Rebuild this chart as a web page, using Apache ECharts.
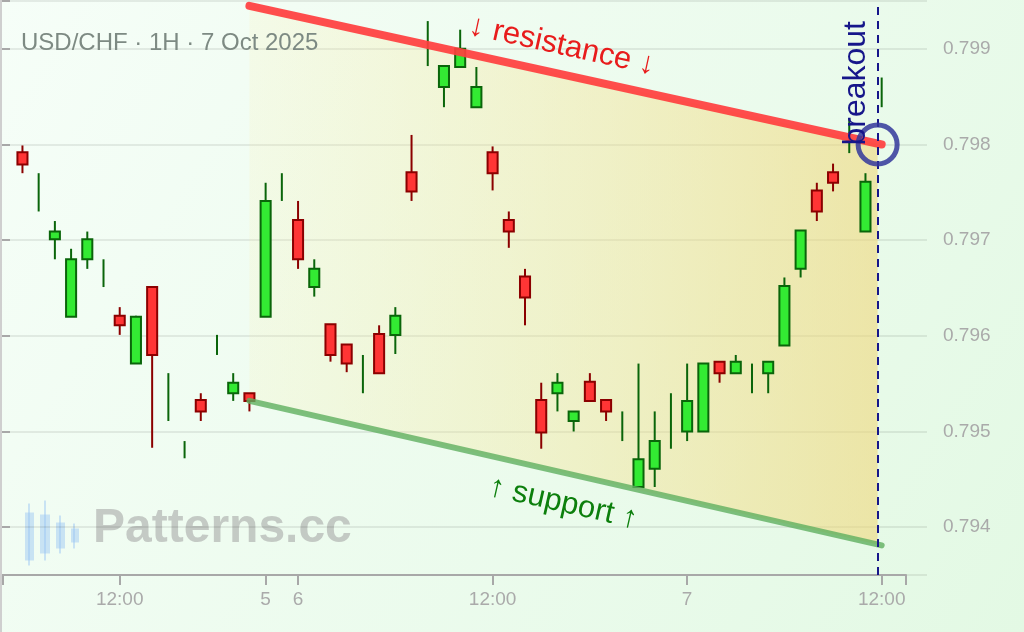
<!DOCTYPE html>
<html>
<head>
<meta charset="utf-8">
<title>USD/CHF 1H</title>
<script src="https://cdn.jsdelivr.net/npm/echarts@6/dist/echarts.min.js"></script>
<style>
  html, body { margin: 0; padding: 0; }
  #chart { width: 1024px; height: 632px; }
</style>
</head>
<body>
<div id="chart"></div>
<script>
// hourly bars, index 0 = 12:00 on 3 Oct (weekend gap removed)
const barIndex = [-6, -5, -4, -3, -2, -1, 0, 1, 2, 3, 4, 5, 6, 7, 8, 9, 10, 11, 12, 13,
  14, 15, 16, 17, 18, 19, 20, 21, 22, 23, 24, 25, 26, 27, 28, 29, 30, 31, 32, 33,
  34, 35, 36, 37, 38, 39, 40, 41, 42, 43, 44, 45, 46, 47];
const openPrice = [0.79792, 0.79750, 0.79701, 0.79620, 0.79680, 0.79665, 0.79621, 0.79571, 0.79651, 0.79536,
  0.79481, 0.79533, 0.79590, 0.79540, 0.79540, 0.79620, 0.79755, 0.79721, 0.79651, 0.79612,
  0.79591, 0.79560, 0.79602, 0.79601, 0.79771, 0.79905, 0.79860, 0.79881, 0.79839, 0.79792,
  0.79721, 0.79662, 0.79533, 0.79540, 0.79511, 0.79552, 0.79533, 0.79505, 0.79442, 0.79461,
  0.79511, 0.79500, 0.79500, 0.79573, 0.79561, 0.79556, 0.79561, 0.79590, 0.79670, 0.79752,
  0.79771, 0.79809, 0.79709, 0.79855];
const closePrice = [0.79779, 0.79750, 0.79709, 0.79680, 0.79701, 0.79665, 0.79611, 0.79620, 0.79580, 0.79536,
  0.79481, 0.79521, 0.79590, 0.79551, 0.79532, 0.79741, 0.79755, 0.79680, 0.79670, 0.79580,
  0.79571, 0.79560, 0.79561, 0.79621, 0.79751, 0.79905, 0.79882, 0.79900, 0.79860, 0.79770,
  0.79709, 0.79640, 0.79499, 0.79551, 0.79521, 0.79532, 0.79521, 0.79505, 0.79471, 0.79490,
  0.79511, 0.79532, 0.79571, 0.79561, 0.79573, 0.79556, 0.79573, 0.79652, 0.79710, 0.79730,
  0.79760, 0.79809, 0.79761, 0.79855];
const lowPrice = [0.79770, 0.79730, 0.79680, 0.79620, 0.79670, 0.79651, 0.79601, 0.79571, 0.79483, 0.79511,
  0.79472, 0.79511, 0.79580, 0.79532, 0.79521, 0.79620, 0.79741, 0.79670, 0.79641, 0.79573,
  0.79562, 0.79540, 0.79561, 0.79581, 0.79741, 0.79882, 0.79839, 0.79881, 0.79839, 0.79752,
  0.79692, 0.79611, 0.79482, 0.79521, 0.79500, 0.79532, 0.79511, 0.79490, 0.79442, 0.79442,
  0.79482, 0.79490, 0.79500, 0.79551, 0.79561, 0.79540, 0.79540, 0.79590, 0.79661, 0.79720,
  0.79751, 0.79791, 0.79709, 0.79839];
const highPrice = [0.79799, 0.79770, 0.79720, 0.79691, 0.79709, 0.79680, 0.79630, 0.79621, 0.79651, 0.79561,
  0.79490, 0.79540, 0.79601, 0.79561, 0.79540, 0.79760, 0.79770, 0.79741, 0.79680, 0.79612,
  0.79591, 0.79580, 0.79611, 0.79630, 0.79810, 0.79929, 0.79882, 0.79920, 0.79881, 0.79798,
  0.79730, 0.79670, 0.79551, 0.79561, 0.79521, 0.79561, 0.79533, 0.79521, 0.79571, 0.79521,
  0.79540, 0.79571, 0.79571, 0.79573, 0.79580, 0.79571, 0.79573, 0.79661, 0.79710, 0.79760,
  0.79780, 0.79827, 0.79770, 0.79870];

// x-axis labels
const tickIndex = [0, 9, 11, 23, 35, 47];
const tickText = ['12:00', '5', '6', '12:00', '7', '12:00'];
const priceTicks = [0.794, 0.795, 0.796, 0.797, 0.798, 0.799];

// pattern lines
const lineIndex = [8, 47];
const resistance = [0.79945, 0.79800];
const support = [0.79532, 0.79381];
const breakoutIndex = 46.75;
const breakoutPrice = 0.798;

const X_MIN = -7.2, X_MAX = 48.5;
const Y_MIN = 0.7935, Y_MAX = 0.7995;
const FONT = '"Liberation Sans", Arial, sans-serif';

const candles = barIndex.map((x, k) => [x, openPrice[k], closePrice[k], lowPrice[k], highPrice[k]]);

const lerp = (arr, x) => arr[0] + (arr[1] - arr[0]) * (x - lineIndex[0]) / (lineIndex[1] - lineIndex[0]);
const wedge = [[lineIndex[0], resistance[0], support[0], breakoutIndex, lerp(resistance, breakoutIndex), lerp(support, breakoutIndex)]];

function renderCandle(params, api) {
    const x = api.value(0);
    const o = api.value(1), c = api.value(2);
    const pO = api.coord([x, o]);
    const pC = api.coord([x, c]);
    const pL = api.coord([x, api.value(3)]);
    const pH = api.coord([x, api.value(4)]);
    const w = api.size([1, 0])[0] * 0.62;
    const up = c >= o;
    const edge = up ? '#0a650a' : '#8b0000';
    const kids = [{
        type: 'line',
        shape: { x1: pH[0], y1: pH[1], x2: pL[0], y2: pL[1] },
        style: { stroke: edge, lineWidth: 2 },
    }];
    if (o !== c) {
        kids.push({
            type: 'rect',
            shape: { x: pO[0] - w / 2, y: Math.min(pO[1], pC[1]), width: w, height: Math.abs(pO[1] - pC[1]) },
            style: { fill: up ? '#33ea33' : '#ff3535', stroke: edge, lineWidth: 2 },
        });
    }
    return { type: 'group', children: kids };
}

function renderWedge(params, api) {
    const a = api.coord([api.value(0), api.value(1)]);
    const b = api.coord([api.value(3), api.value(4)]);
    const c = api.coord([api.value(3), api.value(5)]);
    const d = api.coord([api.value(0), api.value(2)]);
    return {
        type: 'polygon',
        shape: { points: [a, b, c, d] },
        style: {
            fill: {
                type: 'linear', x: 0, y: 0, x2: 1, y2: 0,
                colorStops: [
                    { offset: 0, color: 'rgba(250,235,160,0.15)' },
                    { offset: 1, color: 'rgba(240,214,120,0.58)' },
                ],
            },
        },
    };
}

const chart = echarts.init(document.getElementById('chart'));
const option = {
    animation: false,
    backgroundColor: {
        type: 'linear', x: 0, y: 0, x2: 1, y2: 1,
        colorStops: [
            { offset: 0, color: '#f6fef8' },
            { offset: 1, color: '#e3f9e4' },
        ],
    },
    title: {
        text: 'USD/CHF · 1H · 7 Oct 2025',
        left: 16,
        top: 26,
        textStyle: { color: '#7d8a83', fontSize: 24, fontWeight: 'normal', fontFamily: FONT },
    },
    grid: [
        { left: 0, right: 97, top: 1, bottom: 57 },
        { left: 3, right: 118, top: 1, bottom: 57 },
    ],
    xAxis: [
        { gridIndex: 0, type: 'value', min: 0, max: 1, show: false },
        {
            gridIndex: 1,
            type: 'value',
            min: X_MIN,
            max: X_MAX,
            axisLine: { lineStyle: { color: '#a8a8a8', width: 2 } },
            axisTick: { length: 10, lineStyle: { color: '#a8a8a8', width: 2 }, customValues: [X_MIN].concat(tickIndex, [X_MAX]) },
            axisLabel: {
                customValues: tickIndex,
                formatter: (v) => tickText[tickIndex.indexOf(v)],
                color: '#aaaaaa',
                fontSize: 19,
                fontFamily: FONT,
                margin: 15,
            },
            splitLine: { show: false },
        },
    ],
    yAxis: [
        {
            gridIndex: 0,
            type: 'value',
            position: 'right',
            min: Y_MIN,
            max: Y_MAX,
            axisLine: { show: true, lineStyle: { color: '#a8a8a8', width: 2 } },
            axisTick: { show: true, length: 10, lineStyle: { color: '#a8a8a8', width: 2 }, customValues: [Y_MIN].concat(priceTicks, [Y_MAX]) },
            axisLabel: {
                customValues: priceTicks,
                formatter: (v) => v.toFixed(3),
                color: '#aaaaaa',
                fontSize: 19,
                fontFamily: FONT,
                margin: 16,
            },
            splitLine: { show: true, lineStyle: { color: 'rgba(0,0,0,0.1)', width: 1.5 } },
        },
        { gridIndex: 1, type: 'value', min: Y_MIN, max: Y_MAX, show: false },
    ],
    graphic: [
        { type: 'line', shape: { x1: 1, y1: 0, x2: 1, y2: 632 }, style: { stroke: '#cfcfcf', lineWidth: 2 }, z: 1 },
        // watermark logo
        { type: 'group', left: 25, top: 498, z: 0, children: [
            { type: 'line', shape: { x1: 4, y1: 0, x2: 4, y2: 62 }, style: { stroke: 'rgba(150,195,245,0.45)', lineWidth: 2 } },
            { type: 'rect', shape: { x: 0, y: 9, width: 9, height: 48 }, style: { fill: 'rgba(150,195,245,0.45)' } },
            { type: 'line', shape: { x1: 20, y1: -3, x2: 20, y2: 57 }, style: { stroke: 'rgba(150,195,245,0.45)', lineWidth: 2 } },
            { type: 'rect', shape: { x: 15, y: 11, width: 10, height: 39 }, style: { fill: 'rgba(150,195,245,0.45)' } },
            { type: 'line', shape: { x1: 35, y1: 12, x2: 35, y2: 50 }, style: { stroke: 'rgba(150,195,245,0.45)', lineWidth: 2 } },
            { type: 'rect', shape: { x: 31, y: 19, width: 9, height: 26 }, style: { fill: 'rgba(150,195,245,0.45)' } },
            { type: 'line', shape: { x1: 49, y1: 20, x2: 49, y2: 45 }, style: { stroke: 'rgba(150,195,245,0.45)', lineWidth: 2 } },
            { type: 'rect', shape: { x: 46, y: 25, width: 8, height: 14 }, style: { fill: 'rgba(150,195,245,0.45)' } },
        ] },
        { type: 'text', left: 93, top: 505, z: 0, style: { text: 'Patterns.cc', fill: 'rgba(160,160,160,0.55)', font: 'bold 48px ' + FONT } },
    ],
    series: [
        {
            type: 'custom',
            xAxisIndex: 1, yAxisIndex: 1,
            renderItem: renderWedge,
            data: wedge,
            encode: { x: [0, 3], y: [1, 2, 4, 5] },
            silent: true,
            z: 1,
        },
        {
            type: 'custom',
            xAxisIndex: 1, yAxisIndex: 1,
            renderItem: renderCandle,
            data: candles,
            encode: { x: 0, y: [1, 2, 3, 4] },
            z: 3,
        },
        {
            type: 'line',
            xAxisIndex: 1, yAxisIndex: 1,
            data: lineIndex.map((x, k) => [x, support[k]]),
            showSymbol: false,
            lineStyle: { color: 'rgba(95,175,95,0.8)', width: 6, cap: 'round' },
            z: 4,
        },
        {
            type: 'line',
            xAxisIndex: 1, yAxisIndex: 1,
            data: lineIndex.map((x, k) => [x, resistance[k]]),
            showSymbol: false,
            lineStyle: { color: 'rgba(255,62,62,0.92)', width: 8, cap: 'round' },
            z: 4,
            markLine: {
                silent: true,
                symbol: ['none', 'none'],
                label: { show: false },
                lineStyle: { color: '#16168a', width: 2, type: [8, 6] },
                data: [{ xAxis: breakoutIndex }],
            },
        },
        {
            type: 'scatter',
            xAxisIndex: 1, yAxisIndex: 1,
            data: [[breakoutIndex, breakoutPrice]],
            symbol: 'circle',
            symbolSize: 39,
            itemStyle: { opacity: 1, color: 'rgba(0,0,0,0)', borderColor: 'rgba(50,55,155,0.85)', borderWidth: 5 },
            z: 6,
        },
        {
            type: 'scatter',
            xAxisIndex: 1, yAxisIndex: 1,
            symbolSize: 0,
            silent: true,
            z: 7,
            itemStyle: { opacity: 1 },
            data: [
                { value: [27.28, 0.79903], label: { formatter: '↓ resistance ↓', color: '#e81c1c', rotate: -12.4 } },
                { value: [27.35, 0.79425], label: { formatter: '↑ support ↑', color: '#0c7f0c', rotate: -12.8 } },
                { value: [45.42, 0.79864], label: { formatter: 'breakout', color: '#16168a', rotate: 90, fontSize: 32 } },
            ],
            label: { show: true, position: 'inside', fontSize: 31, fontFamily: FONT },
        },
    ],
};
chart.setOption(option);
window.addEventListener('resize', chart.resize);
</script>
</body>
</html>
